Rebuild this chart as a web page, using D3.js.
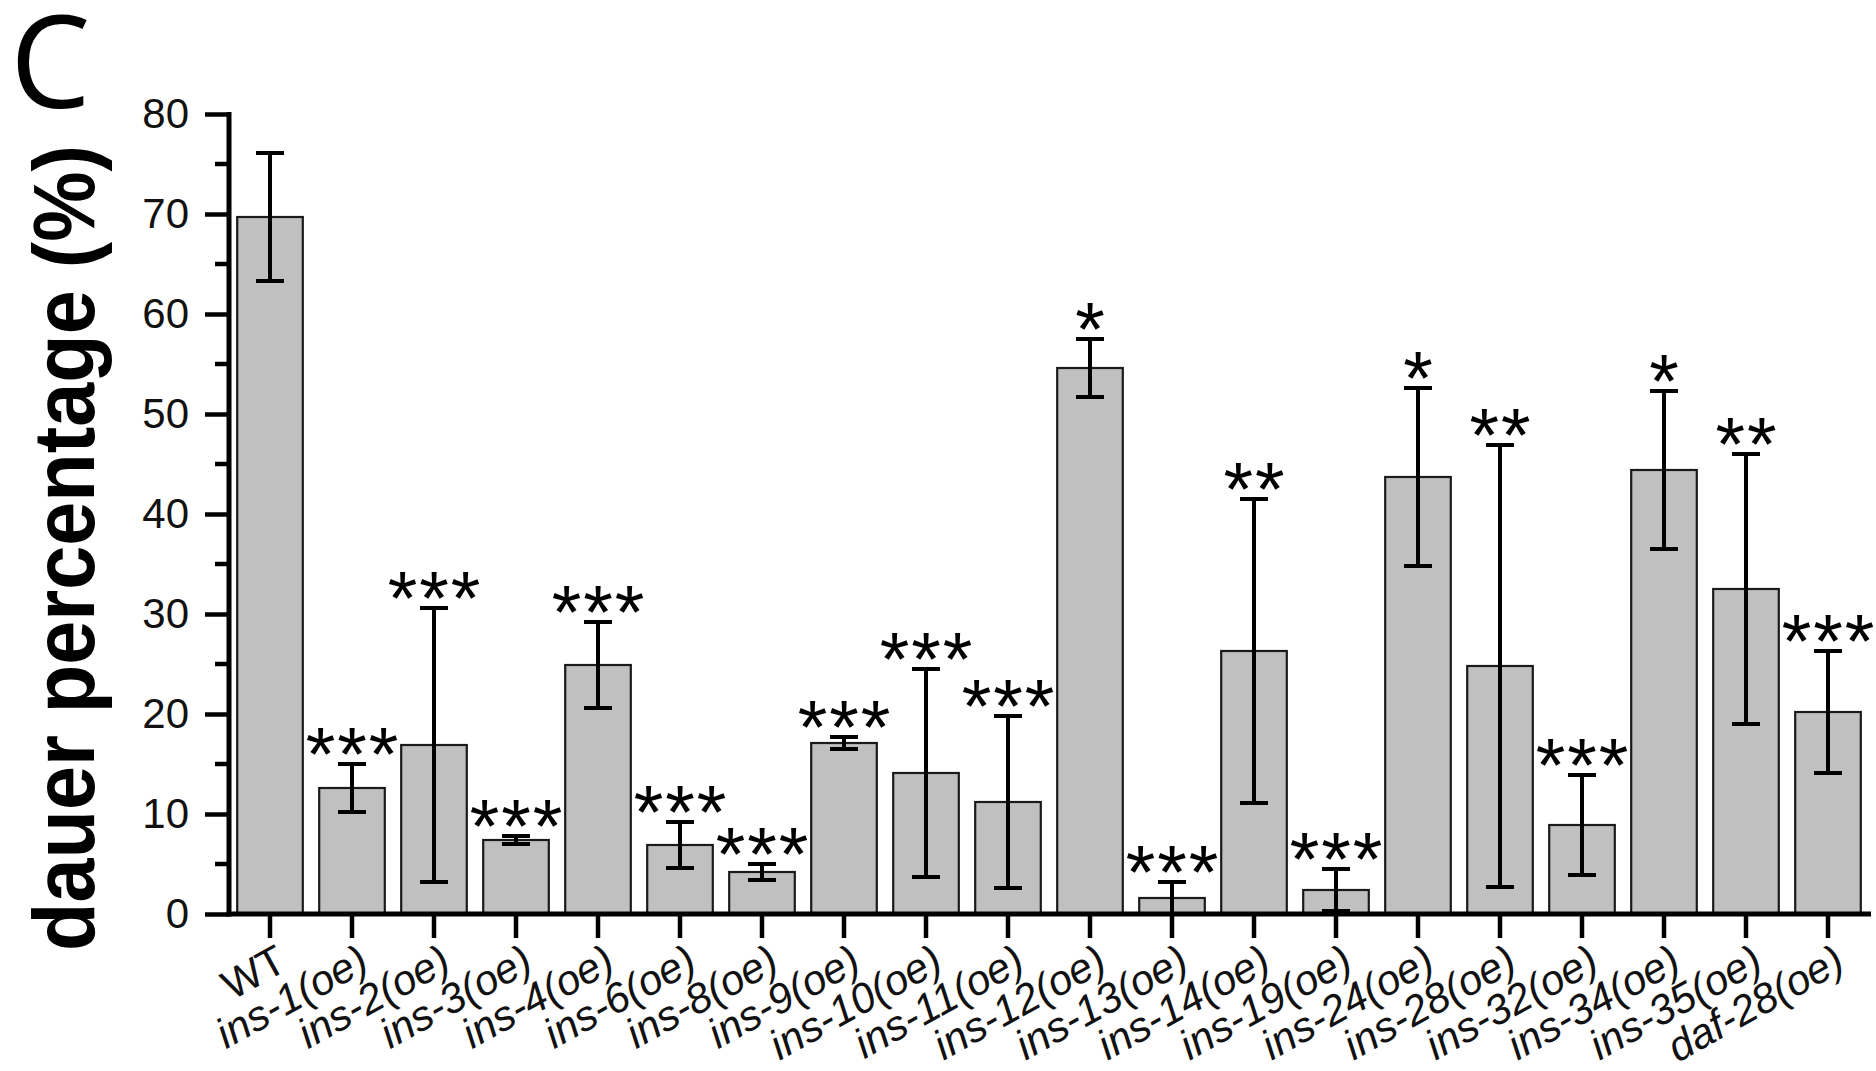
<!DOCTYPE html>
<html>
<head>
<meta charset="utf-8">
<script src="https://cdn.jsdelivr.net/npm/d3@7"></script>
<style>
  body { margin: 0; background: #fff; }
  svg { display: block; }
</style>
</head>
<body>
<svg id="chart" width="1876" height="1071"></svg>
<script>
var groups = ["WT", "ins-1(oe)", "ins-2(oe)", "ins-3(oe)", "ins-4(oe)", "ins-6(oe)", "ins-8(oe)",
  "ins-9(oe)", "ins-10(oe)", "ins-11(oe)", "ins-12(oe)", "ins-13(oe)", "ins-14(oe)", "ins-19(oe)",
  "ins-24(oe)", "ins-28(oe)", "ins-32(oe)", "ins-34(oe)", "ins-35(oe)", "daf-28(oe)"];
var means = [69.7, 12.6, 16.9, 7.4, 24.9, 6.9, 4.2, 17.1, 14.1, 11.2, 54.6, 1.6, 26.3, 2.4, 43.7, 24.8, 8.9, 44.4, 32.5, 20.2];
var errs  = [6.4, 2.4, 13.7, 0.4, 4.3, 2.3, 0.8, 0.6, 10.4, 8.6, 2.9, 1.6, 15.2, 2.1, 8.9, 22.1, 5.0, 7.9, 13.5, 6.1];
var stars = ["", "***", "***", "***", "***", "***", "***", "***", "***", "***", "*", "***", "**", "***",
  "*", "**", "***", "*", "**", "***"];
var yTicks = [0, 10, 20, 30, 40, 50, 60, 70, 80];
var yMinor = [5, 15, 25, 35, 45, 55, 65, 75];

var data = groups.map(function(g, i) {
  return { name: g, mean: means[i], err: errs[i], sig: stars[i] };
});

var axisX = 229, axisRight = 1871, baseY = 914, topY = 114;

var svg = d3.select("#chart");

var x = d3.scaleBand()
  .domain(groups)
  .range([229, 1869])
  .paddingInner(0.2)
  .paddingOuter(0.1);

var y = d3.scaleLinear()
  .domain([0, 80])
  .range([baseY, topY]);

// panel letter
svg.append("text")
  .attr("x", 10)
  .attr("y", 108)
  .style("font-family", "'Open Sans', sans-serif")
  .style("font-size", "128px")
  .style("fill", "#000")
  .text("C");

// y title
svg.append("text")
  .attr("transform", "translate(94," + 548 + ") rotate(-90)")
  .attr("text-anchor", "middle")
  .attr("textLength", 806)
  .attr("lengthAdjust", "spacingAndGlyphs")
  .style("font-family", "'Liberation Sans', Arial, sans-serif")
  .style("font-weight", "bold")
  .style("font-size", "88px")
  .text("dauer percentage (%)");

// bars
svg.append("g").selectAll("rect")
  .data(data)
  .enter().append("rect")
  .attr("x", function(d) { return x(d.name); })
  .attr("y", function(d) { return y(d.mean); })
  .attr("width", x.bandwidth())
  .attr("height", function(d) { return baseY - y(d.mean); })
  .attr("fill", "#c0c0c0")
  .attr("stroke", "#1a1a1a")
  .attr("stroke-width", 2.2);

// error bars
var eb = svg.append("g").attr("stroke", "#000").attr("stroke-width", 4);
var capW = 14;
data.forEach(function(d) {
  var cx = x(d.name) + x.bandwidth() / 2;
  var lo = Math.max(0, d.mean - d.err);
  var hi = d.mean + d.err;
  eb.append("line").attr("x1", cx).attr("x2", cx).attr("y1", y(lo)).attr("y2", y(hi));
  eb.append("line").attr("x1", cx - capW).attr("x2", cx + capW).attr("y1", y(hi)).attr("y2", y(hi));
  if (d.mean - d.err > 0.2) {
    eb.append("line").attr("x1", cx - capW).attr("x2", cx + capW).attr("y1", y(lo)).attr("y2", y(lo));
  }
});

// significance stars
var starSize = 76;
svg.append("g").selectAll("text")
  .data(data.filter(function(d) { return d.sig; }))
  .enter().append("text")
  .attr("x", function(d) { return x(d.name) + x.bandwidth() / 2 + 1; })
  .attr("y", function(d) { return y(d.mean + d.err) - 17 + 0.44 * starSize; })
  .attr("text-anchor", "middle")
  .style("font-family", "'Liberation Sans', Arial, sans-serif")
  .style("font-size", starSize + "px")
  .style("letter-spacing", "2px")
  .text(function(d) { return d.sig; });

// y axis
var yAxis = svg.append("g").attr("transform", "translate(" + axisX + ",0)");
yAxis.call(d3.axisLeft(y).tickValues(yTicks).tickSize(24).tickPadding(16).tickFormat(d3.format("d")));
yAxis.select(".domain").remove();
yAxis.selectAll(".tick line").attr("stroke", "#000").attr("stroke-width", 4.5);
yAxis.selectAll(".tick text")
  .style("font-family", "'Liberation Sans', Arial, sans-serif")
  .style("font-size", "42px")
  .attr("fill", "#111");
yAxis.selectAll(".minor")
  .data(yMinor)
  .enter().append("line")
  .attr("class", "minor")
  .attr("x1", -14).attr("x2", 0)
  .attr("y1", function(d) { return y(d); })
  .attr("y2", function(d) { return y(d); })
  .attr("stroke", "#000").attr("stroke-width", 4.5);
yAxis.append("line")
  .attr("x1", 0).attr("x2", 0)
  .attr("y1", topY - 2).attr("y2", baseY + 2.5)
  .attr("stroke", "#000").attr("stroke-width", 5);

// x axis
var xAxis = svg.append("g").attr("transform", "translate(0," + baseY + ")");
xAxis.append("line")
  .attr("x1", axisX - 2.5).attr("x2", axisRight)
  .attr("y1", 0).attr("y2", 0)
  .attr("stroke", "#000").attr("stroke-width", 5);
xAxis.selectAll(".xt")
  .data(groups)
  .enter().append("line")
  .attr("class", "xt")
  .attr("x1", function(d) { return x(d) + x.bandwidth() / 2; })
  .attr("x2", function(d) { return x(d) + x.bandwidth() / 2; })
  .attr("y1", 0).attr("y2", 24)
  .attr("stroke", "#000").attr("stroke-width", 4.5);
xAxis.selectAll(".xl")
  .data(groups)
  .enter().append("text")
  .attr("class", "xl")
  .attr("transform", function(d) {
    return "translate(" + (x(d) + x.bandwidth() / 2 + 19) + ",55) rotate(-29)";
  })
  .attr("text-anchor", "end")
  .style("font-family", "'Liberation Sans', Arial, sans-serif")
  .style("font-style", function(d) { return d === "WT" ? "normal" : "italic"; })
  .style("font-size", "42px")
  .attr("fill", "#111")
  .text(function(d) { return d; });
</script>
</body>
</html>
